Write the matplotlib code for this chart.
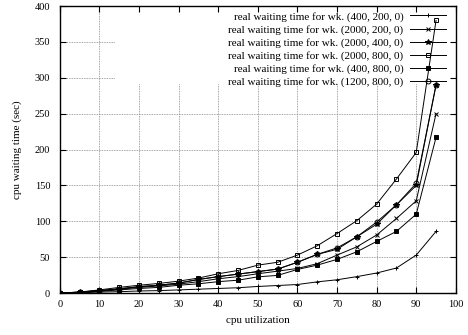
import matplotlib.pyplot as plt
import matplotlib.patches as mpatches
import numpy as np

plt.rcParams["font.family"] = ["Liberation Serif", "DejaVu Serif"]
plt.rcParams["font.size"] = 8

util = [0, 5, 10, 15, 20, 25, 30, 35, 40, 45, 50, 55, 60, 65, 70, 75, 80, 85, 90, 95]

wk_400_200 = [0, 0.5, 1.5, 2, 3, 3.5, 4.5, 5.5, 6.5, 7.5, 9.3, 10.6, 12, 15.7, 18.6, 23, 28, 35, 53, 86]
wk_2000_200 = [0, 1, 3, 5.5, 8, 10, 12.5, 16, 20, 23, 27, 30.6, 34.4, 41, 53, 64.5, 81, 104, 128.6, 250]
wk_2000_400 = [0, 1.5, 3.5, 6, 9, 11, 14, 19, 23, 26.5, 30, 33.5, 43, 54, 61, 78.5, 96, 123, 150, 290]
wk_2000_800 = [0, 1.5, 4.5, 8, 11, 13.5, 16.7, 21, 27, 31.6, 39, 43, 53, 66, 83, 101, 124, 159, 196, 380]
wk_400_800 = [0, 1, 2.5, 4.5, 6.5, 8, 11, 13, 16, 18, 22.7, 24.7, 33, 39, 47, 57.6, 72, 86, 110, 217]
wk_1200_800 = [0, 1.5, 3.5, 6, 9, 11, 14, 19, 23, 26.5, 30, 33.5, 43, 54, 63, 78.5, 99, 123, 153, 290]

series = [
    ("real waiting time for wk. (400, 200, 0)", wk_400_200, "+", "full"),
    ("real waiting time for wk. (2000, 200, 0)", wk_2000_200, "x", "full"),
    ("real waiting time for wk. (2000, 400, 0)", wk_2000_400, "*", "full"),
    ("real waiting time for wk. (2000, 800, 0)", wk_2000_800, "s", "none"),
    ("real waiting time for wk. (400, 800, 0)", wk_400_800, "s", "full"),
    ("real waiting time for wk. (1200, 800, 0)", wk_1200_800, "o", "none"),
]

fig = plt.figure(figsize=(4.68, 3.35), dpi=100)
ax = fig.add_axes([0.128, 0.125, 0.846, 0.857])

ax.set_xlim(0, 100)
ax.set_ylim(0, 400)
ax.set_xticks(np.arange(0, 101, 10))
ax.set_yticks(np.arange(0, 401, 50))

# gnuplot-style grid, hidden behind the key area
grid_kw = dict(color="#888888", linestyle=(0, (1, 1)), linewidth=0.6, zorder=0.5)
ax.vlines(ax.get_xticks()[1:-1], 0, 400, **grid_kw)
ax.hlines(ax.get_yticks()[1:-1], 0, 100, **grid_kw)
ax.add_patch(mpatches.Rectangle((0.139, 0.728), 0.861, 0.272, transform=ax.transAxes,
                                facecolor="white", edgecolor="none", zorder=1))

for label, vals, mk, fs in series:
    ms = 3.5
    if mk == "*":
        ms = 4
    ax.plot(util, vals, color="black", linewidth=0.7, marker=mk, markersize=ms,
            fillstyle=fs, markeredgewidth=0.7, label=label, zorder=2)

ax.tick_params(direction="in", top=True, right=True, length=4, width=0.8, labelsize=7.5)
ax.tick_params(axis="y", pad=7)
ax.tick_params(axis="x", pad=5)
for s in ax.spines.values():
    s.set_linewidth(1.0)

ax.set_xlabel("cpu utilization", fontsize=8, labelpad=5)
ax.set_ylabel("cpu waiting time (sec)", fontsize=8, labelpad=9)

ax.legend(loc="upper right", bbox_to_anchor=(0.988, 1.0), frameon=False,
          markerfirst=False, handlelength=3.2, labelspacing=0.28,
          borderaxespad=0.2, borderpad=0.3, handletextpad=0.6, fontsize=8)

fig.savefig("out.png", dpi=100)
